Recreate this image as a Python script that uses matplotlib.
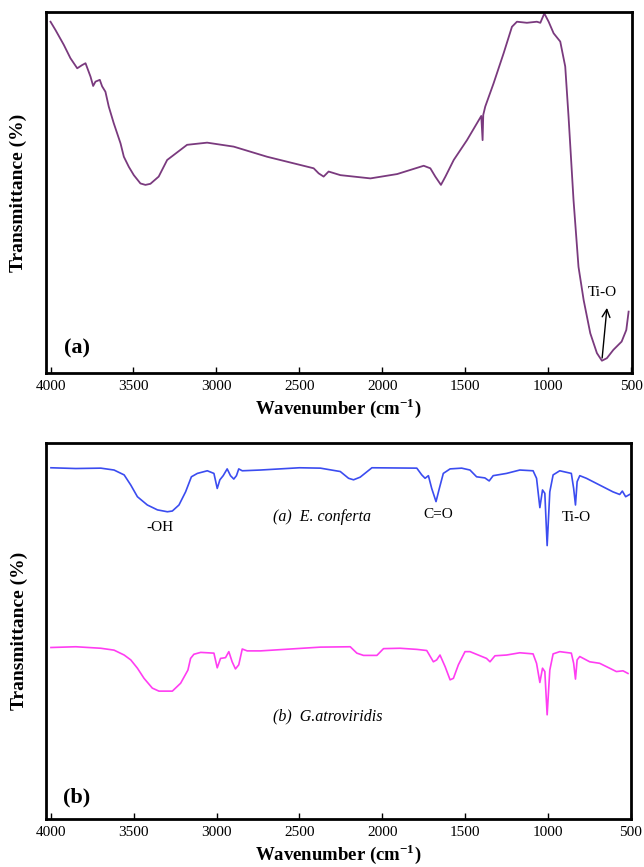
import matplotlib
matplotlib.use("Agg")
import matplotlib.pyplot as plt

plt.rcParams["font.family"] = ["Liberation Serif", "DejaVu Serif"]
plt.rcParams["mathtext.fontset"] = "custom"
plt.rcParams["mathtext.rm"] = "Liberation Serif"
plt.rcParams["mathtext.bf"] = "Liberation Serif:bold"

# ---- Panel (a): TiO2 nanoparticles ----
wn_a = [4000, 3970, 3920, 3880, 3839, 3809, 3789, 3759, 3743, 3729, 3703, 3689,
        3669, 3649, 3619, 3578, 3558, 3528, 3498, 3458, 3428, 3398, 3348, 3297,
        3177, 3056, 2896, 2695, 2414, 2384, 2354, 2324, 2253, 2072, 1911, 1751,
        1711, 1681, 1647, 1620, 1570, 1490, 1404, 1396, 1392, 1380, 1330, 1269,
        1219, 1189, 1129, 1069, 1048, 1024, 998, 968, 928, 898, 878, 848, 818,
        787, 747, 707, 677, 647, 608, 558, 530, 516]
tr_a = [97.3, 95.0, 90.9, 87.2, 84.4, 85.3, 85.8, 82.1, 79.5, 80.7, 81.2, 79.4,
        77.9, 73.8, 69.2, 63.6, 59.9, 57.1, 54.8, 52.5, 52.1, 52.4, 54.4, 59.0,
        63.2, 63.8, 62.7, 59.9, 56.7, 55.3, 54.4, 55.8, 54.8, 53.9, 55.1, 57.4,
        56.7, 54.4, 52.1, 54.4, 59.0, 64.5, 71.2, 64.5, 71.5, 73.8, 80.2, 88.6,
        95.9, 97.3, 97.0, 97.3, 97.0, 99.6, 97.3, 94.1, 91.8, 84.9, 71.0, 47.9,
        29.4, 20.2, 11.0, 5.5, 3.4, 4.1, 6.4, 8.7, 11.9, 17.0]

# ---- Panel (b): plant extracts ----
wn_ec = [4000, 3850, 3699, 3619, 3558, 3518, 3478, 3418, 3357, 3297, 3267, 3227,
         3187, 3152, 3116, 3056, 3016, 2996, 2980, 2960, 2936, 2916, 2896, 2880,
         2866, 2845, 2735, 2500, 2373, 2253, 2203, 2173, 2133, 2062, 1791, 1761,
         1741, 1721, 1701, 1675, 1655, 1631, 1590, 1520, 1470, 1430, 1380, 1354,
         1330, 1249, 1169, 1089, 1068, 1048, 1032, 1018, 1004, 988, 968, 928,
         858, 844, 833, 823, 807, 767, 687, 607, 566, 550, 530, 506]
tr_ec = [93.4, 93.2, 93.3, 92.8, 91.5, 88.8, 85.7, 83.5, 82.2, 81.7, 81.9, 83.5,
         87.0, 91.0, 91.9, 92.6, 91.9, 87.9, 90.2, 91.3, 93.1, 91.3, 90.4, 91.3,
         93.1, 92.6, 92.8, 93.4, 93.3, 92.4, 90.6, 90.2, 90.9, 93.4, 93.3, 91.5,
         90.6, 91.3, 87.9, 84.4, 87.9, 91.9, 93.1, 93.3, 92.8, 91.0, 90.7, 89.9,
         91.3, 91.9, 92.8, 92.6, 90.6, 82.8, 87.5, 86.6, 72.7, 87.0, 91.5, 92.6,
         91.9, 87.9, 83.5, 89.7, 91.3, 90.6, 88.8, 87.0, 86.3, 87.2, 85.7, 86.3]

wn_ga = [4000, 3850, 3699, 3619, 3558, 3518, 3478, 3438, 3388, 3348, 3267, 3217,
         3173, 3157, 3137, 3096, 3016, 2996, 2976, 2946, 2926, 2906, 2886, 2866,
         2845, 2815, 2735, 2373, 2193, 2153, 2113, 2032, 1992, 1892, 1791, 1731,
         1691, 1671, 1651, 1620, 1590, 1570, 1540, 1500, 1470, 1370, 1349, 1319,
         1249, 1169, 1089, 1068, 1048, 1032, 1018, 1004, 988, 968, 928, 858, 844,
         833, 823, 807, 747, 687, 627, 586, 546, 516]
tr_ga = [45.6, 45.8, 45.4, 44.9, 43.6, 42.3, 40.1, 37.4, 34.8, 34.0, 34.0, 36.1,
         39.6, 42.7, 43.8, 44.3, 44.1, 40.2, 42.7, 42.9, 44.5, 41.8, 39.9, 41.0,
         45.2, 44.7, 44.7, 45.7, 45.8, 44.1, 43.5, 43.5, 45.3, 45.4, 45.1, 44.8,
         41.8, 42.3, 43.6, 40.5, 37.0, 37.4, 41.0, 44.5, 44.5, 42.7, 41.8, 43.4,
         43.6, 44.2, 43.9, 41.4, 36.3, 40.1, 39.2, 27.7, 39.6, 43.9, 44.5, 44.1,
         41.4, 37.2, 42.3, 43.2, 41.8, 41.4, 40.1, 39.2, 39.4, 38.7]

xticks = [4000, 3500, 3000, 2500, 2000, 1500, 1000, 500]
xlabel = r"Wavenumber (cm$^{\mathbf{-1}}$)"
ylabel = "Transmittance (%)"

fig = plt.figure(figsize=(6.44, 8.67), dpi=100)
ax1 = fig.add_axes([0.0707, 0.5698, 0.9103, 0.4164])
ax2 = fig.add_axes([0.0714, 0.0554, 0.9086, 0.4337])


def style(ax):
    ax.set_xlim(4030, 497)
    ax.set_ylim(0, 100)
    ax.set_xticks(xticks)
    ax.set_xticklabels([str(t) for t in xticks], fontsize=11)
    ax.set_yticks([])
    ax.tick_params(axis="x", direction="in", length=4, width=1, pad=5)
    for s in ax.spines.values():
        s.set_linewidth(2)
        s.set_color("black")
    ax.set_xlabel(xlabel, fontsize=13.5, fontweight="bold", labelpad=2)
    ax.set_ylabel(ylabel, fontsize=14, fontweight="bold", labelpad=13)


ax1.plot(wn_a, tr_a, color="#7a3a7e", lw=1.3)
style(ax1)
ax1.annotate("", xy=(645, 18.8), xytext=(677, 3.4),
             arrowprops=dict(arrowstyle="->", color="black", lw=1.0,
                             mutation_scale=14))
ax1.text(675, 22.4, "Ti-O", fontsize=11, ha="center", va="center")
ax1.text(3843, 6.9, "(a)", fontsize=16, fontweight="bold",
         ha="center", va="center")

ax2.plot(wn_ec, tr_ec, color="#3b4cf0", lw=1.2)
ax2.plot(wn_ga, tr_ga, color="#ff3df2", lw=1.2)
style(ax2)
ax2.text(3343, 77.4, "-OH", fontsize=11, ha="center", va="center")
ax2.text(2657, 80.3, "(a)  E. conferta", fontsize=11.5, style="italic",
         ha="left", va="center")
ax2.text(1663, 81.1, "C=O", fontsize=11, ha="center", va="center")
ax2.text(825, 80.3, "Ti-O", fontsize=11, ha="center", va="center")
ax2.text(2657, 27.4, "(b)  G.atroviridis", fontsize=11.5, style="italic",
         ha="left", va="center")
ax2.text(3843, 5.6, "(b)", fontsize=16, fontweight="bold",
         ha="center", va="center")

fig.savefig("out.png", dpi=100)
